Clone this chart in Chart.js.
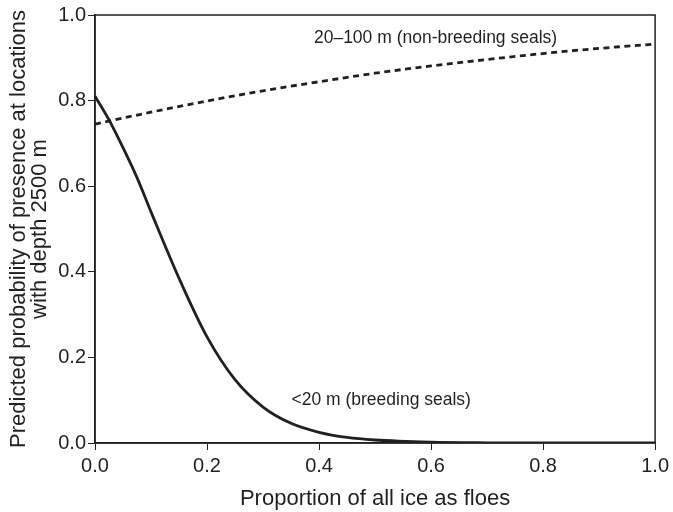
<!DOCTYPE html>
<html>
<head>
<meta charset="utf-8">
<script src="https://cdn.jsdelivr.net/npm/chart.js@4"></script>
<style>
  body { margin: 0; background: #ffffff; }
  #wrap { width: 673px; height: 512px; position: relative; }
</style>
</head>
<body>
<div id="wrap"><canvas id="floe_chart"></canvas></div>
<script>
// proportion of ice as floes (x) and predicted probability (y)
const breeding_x = [0, 0.025, 0.05, 0.075, 0.1, 0.15, 0.2, 0.25, 0.3, 0.35, 0.4, 0.45, 0.5, 0.6, 0.7, 0.8, 0.9, 1.0];
const breeding_y = [0.81, 0.755, 0.69, 0.62, 0.54, 0.385, 0.248, 0.148, 0.084, 0.046, 0.025, 0.013, 0.007, 0.002, 0.0005, 0.0001, 0, 0];

const non_breeding_x = [0, 0.1, 0.2, 0.3, 0.4, 0.5, 0.6, 0.7, 0.8, 0.9, 1.0];
const non_breeding_y = [0.745, 0.773, 0.799, 0.823, 0.844, 0.864, 0.881, 0.896, 0.910, 0.922, 0.932];

const x_ticks = [0, 0.2, 0.4, 0.6, 0.8, 1.0];
const y_ticks = [0, 0.2, 0.4, 0.6, 0.8, 1.0];

// curve labels, placed at data coordinates
const curve_labels = [
    { text: "20\u2013100 m (non-breeding seals)", x: 0.608, y: 0.946 },
    { text: "<20 m (breeding seals)", x: 0.511, y: 0.10 }
];

const ink = "#231f20";
const font_family = "'Liberation Sans', Arial, Helvetica, sans-serif";

function to_points(xs, ys)
{
    return xs.map((x, i) => ({ x: x, y: ys[i] }));
}

const frame_and_labels =
{
    id: 'frame_and_labels',
    afterDatasetsDraw(chart)
    {
        const ctx = chart.ctx;
        const area = chart.chartArea;
        const xs = chart.scales.x;
        const ys = chart.scales.y;

        ctx.save();
        ctx.strokeStyle = ink;
        ctx.lineWidth = 1.5;
        ctx.strokeRect(area.left, area.top, area.right - area.left, area.bottom - area.top);

        ctx.fillStyle = ink;
        ctx.font = "17.5px " + font_family;
        ctx.textAlign = "center";
        ctx.textBaseline = "middle";
        curve_labels.forEach(lbl =>
        {
            ctx.fillText(lbl.text, xs.getPixelForValue(lbl.x), ys.getPixelForValue(lbl.y));
        });
        ctx.restore();
    }
};

const data =
{
    datasets:
        [{
            label: "<20 m (breeding seals)",
            data: to_points(breeding_x, breeding_y),
            borderColor: ink,
            borderWidth: 2.8,
            pointRadius: 0,
            cubicInterpolationMode: 'monotone',
            fill: false
        },
        {
            label: "20-100 m (non-breeding seals)",
            data: to_points(non_breeding_x, non_breeding_y),
            borderColor: ink,
            borderWidth: 2.8,
            borderDash: [6, 4.5],
            pointRadius: 0,
            cubicInterpolationMode: 'monotone',
            fill: false
        }]
};

const config =
{
    type: 'line',
    data,
    options:
    {
        responsive: true,
        maintainAspectRatio: false,
        animation: false,
        layout:
        {
            padding: { top: 15, right: 16, bottom: 0, left: 0 }
        },
        scales:
        {
            x:
            {
                type: 'linear',
                min: 0,
                max: 1,
                afterFit: scale => { scale.height = 69; },
                afterBuildTicks: scale => { scale.ticks = x_ticks.map(v => ({ value: v })); },
                grid: { drawOnChartArea: false, tickLength: 7, color: ink, tickWidth: 1 },
                border: { display: true, color: ink, width: 1.5 },
                ticks:
                {
                    color: ink,
                    padding: 4,
                    maxRotation: 0,
                    font: { size: 20, family: font_family },
                    callback: v => v.toFixed(1)
                },
                title:
                {
                    display: true,
                    text: "Proportion of all ice as floes",
                    color: ink,
                    padding: { top: 3, bottom: 0 },
                    font: { size: 22, family: font_family }
                }
            },
            y:
            {
                type: 'linear',
                min: 0,
                max: 1,
                afterFit: scale => { scale.width = 95; },
                afterBuildTicks: scale => { scale.ticks = y_ticks.map(v => ({ value: v })); },
                grid: { drawOnChartArea: false, tickLength: 7, color: ink, tickWidth: 1 },
                border: { display: true, color: ink, width: 1.5 },
                ticks:
                {
                    color: ink,
                    padding: 2,
                    font: { size: 20, family: font_family },
                    callback: v => v.toFixed(1)
                },
                title:
                {
                    display: true,
                    text: ["Predicted probability of presence at locations", "with depth 2500 m"],
                    color: ink,
                    padding: { top: 8, bottom: 0 },
                    font: { size: 22, family: font_family, lineHeight: 0.98 }
                }
            }
        },
        plugins:
        {
            legend: { display: false },
            tooltip: { enabled: false }
        }
    },
    plugins: [frame_and_labels]
};

const floe_chart = new Chart(document.querySelector('#floe_chart'), config);
</script>
</body>
</html>
